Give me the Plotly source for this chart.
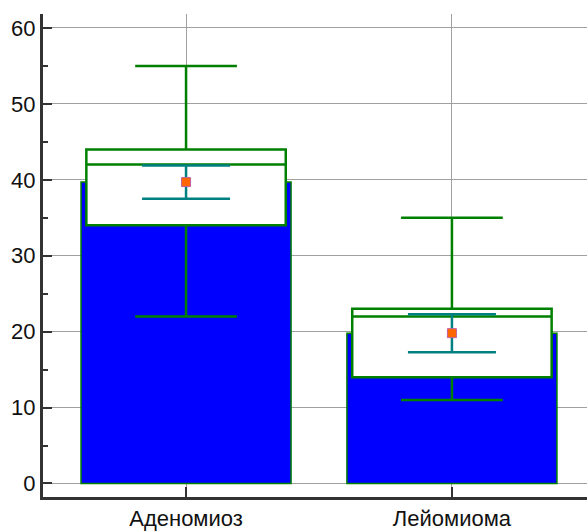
import plotly.graph_objects as go

categories = ["Аденомиоз", "Лейомиома"]
means = [39.7, 19.8]
ci_low = [37.5, 17.3]
ci_high = [41.9, 22.3]
q1 = [34, 14]
medians = [42, 22]
q3 = [44, 23]
whisk_low = [22, 11]
whisk_high = [55, 35]
y_ticks = [0, 10, 20, 30, 40, 50, 60]

font_fam = "Liberation Sans, Arial, sans-serif"

fig = go.Figure()
fig.add_trace(go.Bar(
    x=categories, y=means, width=0.79,
    marker=dict(color="#0000FF", line=dict(color="#008000", width=1.5)),
    showlegend=False, hoverinfo="skip",
))
fig.add_trace(go.Box(
    x=categories, q1=q1, median=medians, q3=q3,
    lowerfence=whisk_low, upperfence=whisk_high,
    width=0.75, whiskerwidth=0.51, boxpoints=False,
    line=dict(color="#008000", width=2.5), fillcolor="#FFFFFF",
    showlegend=False,
))
fig.add_trace(go.Scatter(
    x=categories, y=means, mode="markers",
    marker=dict(symbol="square", size=9, color="#FF6600",
                line=dict(color="#C060A0", width=1)),
    error_y=dict(type="data", symmetric=False,
                 array=[h - m for h, m in zip(ci_high, means)],
                 arrayminus=[m - l for m, l in zip(means, ci_low)],
                 color="#008080", thickness=2.5, width=44),
    showlegend=False,
))

fig.update_layout(
    width=587, height=532,
    margin=dict(l=43, r=0, t=14, b=34.5, autoexpand=False),
    plot_bgcolor="#FFFFFF", paper_bgcolor="#FFFFFF",
    barmode="overlay", boxmode="overlay",
    font=dict(family=font_fam, size=22, color="#111111"),
)
fig.update_yaxes(
    range=[-1.78, 61.84], tickvals=y_ticks,
    ticks="inside", ticklen=9, tickwidth=2, tickcolor="#333333",
    minor=dict(dtick=5, tick0=0, ticks="inside", ticklen=5, tickwidth=2,
               tickcolor="#333333", showgrid=False),
    showline=True, linewidth=3, linecolor="#333333",
    showgrid=True, gridcolor="#A0A0A0", gridwidth=1, zeroline=False,
    tickfont=dict(family=font_fam, size=22, color="#111111"),
)
fig.update_xaxes(
    range=[-0.538, 1.508],
    ticks="inside", ticklen=10, tickwidth=2, tickcolor="#333333",
    showline=True, linewidth=3, linecolor="#333333",
    showgrid=True, gridcolor="#A0A0A0", gridwidth=1,
    tickfont=dict(family=font_fam, size=22, color="#111111"),
)

fig.write_html("out.html", config={"displayModeBar": False},
               post_script="document.body.style.margin='0';")
